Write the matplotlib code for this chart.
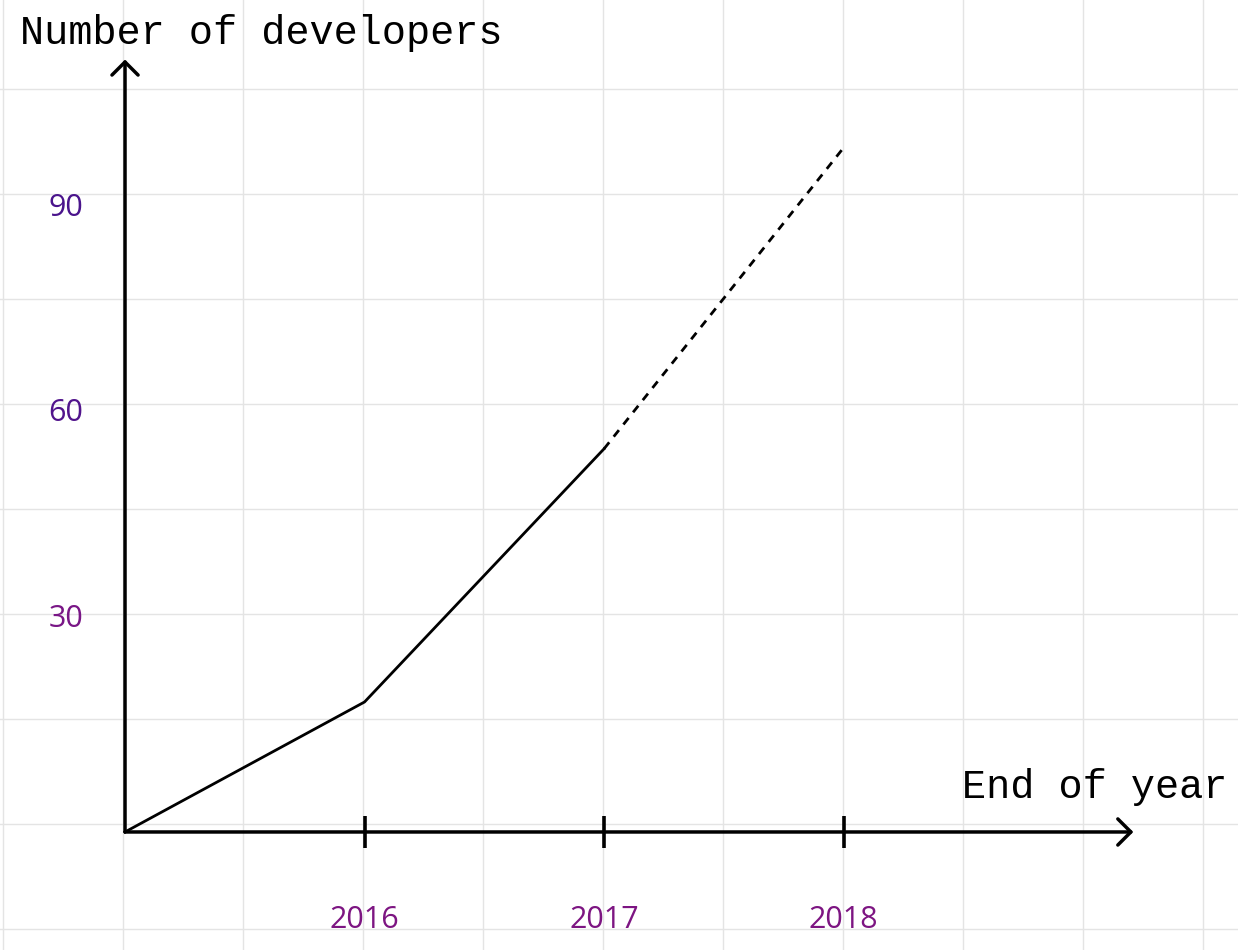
import matplotlib
matplotlib.use("Agg")
import matplotlib.pyplot as plt
import numpy as np

# data
years = [2015, 2016, 2017, 2018]
developers = [0, 19, 56, 100]          # 2017 -> 2018 is a projection (dashed)
tick_years = [2016, 2017, 2018]
tick_values = [30, 60, 90]
value_colors = ["#791686", "#51148c", "#4a148c"]
year_color = "#7d1582"

fig = plt.figure(figsize=(12.38, 9.5), dpi=100)

# graph paper in the background
bg = fig.add_axes([0, 0, 1, 1])
bg.set_xlim(0, 1238)
bg.set_ylim(950, 0)
bg.set_xticks(np.arange(3, 1238, 120))
bg.set_yticks(np.arange(89, 950, 105))
bg.grid(color="#e4e4e4", lw=1)
bg.tick_params(length=0, labelbottom=False, labelleft=False)
for s in bg.spines.values():
    s.set_visible(False)

# chart itself
ax = fig.add_axes([0, 0, 1, 1])
ax.patch.set_alpha(0)
ax.axis("off")
ax.set_xlim(2014.478, 2019.647)
ax.set_ylim(-17.25, 121.6)

arrow = dict(arrowstyle="->,head_length=0.47,head_width=0.47", lw=2.5,
             color="black", mutation_scale=20, shrinkA=0, shrinkB=0)
ax.annotate("", xy=(2019.21, 0), xytext=(years[0], 0), arrowprops=arrow)
ax.annotate("", xy=(years[0], 112.9), xytext=(years[0], 0), arrowprops=arrow)

# x ticks
ax.vlines(tick_years, -2.34, 2.34, color="black", lw=2.6)
for yr in tick_years:
    ax.text(yr, -14.0, str(yr), ha="center", va="baseline",
            fontsize=22, family="Open Sans", color=year_color)

# y labels (baseline sits on the value)
for v, c in zip(tick_values, value_colors):
    ax.text(2014.825, v, str(v), ha="right", va="baseline",
            fontsize=22, family="Open Sans", color=c)

# line: solid for actual, dashed for projection
ax.plot(years[:3], developers[:3], color="black", lw=2.0, solid_joinstyle="miter")
ax.plot(years[2:], developers[2:], color="black", lw=2.0, dashes=(3.0, 2.6))

ax.text(2014.562, 115.1, "Number of developers", ha="left", va="baseline",
        fontsize=29, family="Liberation Mono", color="black")
ax.text(2019.601, 4.97, "End of year", ha="right", va="baseline",
        fontsize=29, family="Liberation Mono", color="black")

fig.savefig("out.png", dpi=100)
